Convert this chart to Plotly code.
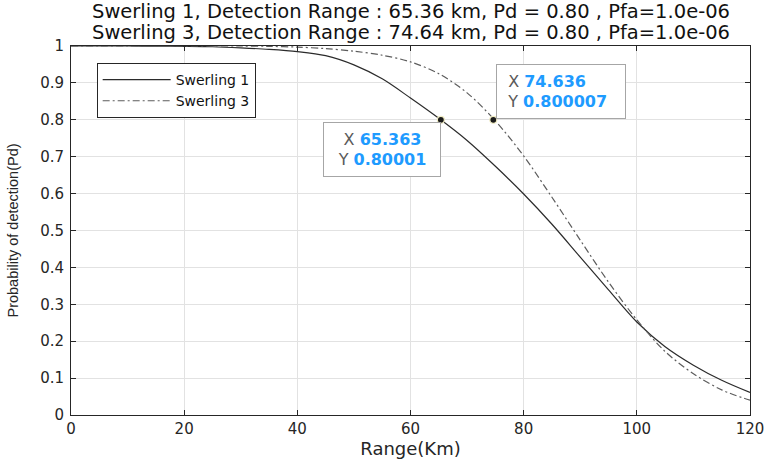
import plotly.graph_objects as go

# ---- data ----
range_km = [0, 5, 10, 15, 20, 25, 30, 35, 40, 45, 50, 55, 60, 65, 70, 75, 80, 85, 90, 95, 100, 105, 110, 115, 120]
pd_swerling1 = [1.0, 1.0, 1.0, 0.9995, 0.999, 0.998, 0.995, 0.991, 0.985, 0.974, 0.949, 0.911, 0.859, 0.804, 0.744,
                0.674, 0.599, 0.517, 0.428, 0.339, 0.252, 0.185, 0.135, 0.094, 0.061]
pd_swerling3 = [1.0, 1.0, 1.0, 1.0, 1.0, 1.0, 1.0, 0.999, 0.997, 0.993, 0.986, 0.975, 0.957, 0.925, 0.873,
                0.797, 0.702, 0.59, 0.474, 0.36, 0.258, 0.172, 0.112, 0.068, 0.04]
series_names = ["Swerling 1", "Swerling 3"]
tip_x = [65.363, 74.636]
tip_y = [0.80001, 0.800007]
tip_y_text = ["0.80001", "0.800007"]
pd_target = 0.80
pfa = 1.0e-06
x_ticks = [0, 20, 40, 60, 80, 100, 120]
y_ticks = [0, 0.1, 0.2, 0.3, 0.4, 0.5, 0.6, 0.7, 0.8, 0.9, 1.0]
y_tick_labels = ["0", "0.1", "0.2", "0.3", "0.4", "0.5", "0.6", "0.7", "0.8", "0.9", "1"]

FONT = "DejaVu Sans"
AXC = "#262626"

fig = go.Figure()
fig.add_trace(go.Scatter(
    x=range_km, y=pd_swerling1, mode="lines", name=series_names[0],
    line=dict(color="#2b2b2b", width=1.2, shape="spline", smoothing=0.9)))
fig.add_trace(go.Scatter(
    x=range_km, y=pd_swerling3, mode="lines", name=series_names[1],
    line=dict(color="#5c5c5c", width=1.2, dash="7px,3px,2px,3px", shape="spline", smoothing=0.9)))
fig.add_trace(go.Scatter(
    x=tip_x, y=tip_y, mode="markers", showlegend=False, hoverinfo="skip",
    marker=dict(color="#1a1a1a", size=7, line=dict(color="#f0ecc4", width=1.2))))

annotations = []
# two-line title
title_y = [1.0925, 1.036]
for name, xr, ty in zip(series_names, tip_x, title_y):
    annotations.append(dict(
        text=f"{name}, Detection Range : {xr:.2f} km, Pd = {pd_target:.2f} , Pfa={pfa:.1e}",
        xref="paper", yref="paper", x=0.5, y=ty, xanchor="center", yanchor="middle",
        showarrow=False, font=dict(family=FONT, size=19.5, color="#111111")))

# data tips
def tip_text(xv, yv, lead=""):
    return (f"{lead}<span style='color:#5a5a5a'>X</span> <b>{xv}</b><br>"
            f"{lead}<span style='color:#5a5a5a'>Y</span> <b>{yv}</b>")

annotations.append(dict(
    text=tip_text(f"{tip_x[0]:.3f}", tip_y_text[0]),
    xref="x", yref="y", x=tip_x[0], y=tip_y[0], xanchor="right", yanchor="top",
    xshift=0, yshift=-2, showarrow=False, width=114, height=51, align="center", valign="middle",
    bgcolor="white", bordercolor="#a6a6a6", borderwidth=1, borderpad=1,
    font=dict(family=FONT, size=16, color="#1e9bff")))
annotations.append(dict(
    text=tip_text(f"{tip_x[1]:.3f}", tip_y_text[1], lead="&nbsp;&nbsp;"),
    xref="x", yref="y", x=tip_x[1], y=tip_y[1], xanchor="left", yanchor="bottom",
    xshift=3, yshift=1, showarrow=False, width=126, height=51, align="left", valign="middle",
    bgcolor="white", bordercolor="#a6a6a6", borderwidth=1, borderpad=1,
    font=dict(family=FONT, size=16, color="#1e9bff")))

fig.update_layout(
    width=776, height=467, autosize=False,
    margin=dict(l=71, r=18, t=46, b=49),
    paper_bgcolor="white", plot_bgcolor="white",
    annotations=annotations,
    legend=dict(x=0.0378, y=0.954, xanchor="left", yanchor="top",
                bordercolor=AXC, borderwidth=1, bgcolor="white",
                font=dict(family=FONT, size=14, color="#111111"),
                itemwidth=68, tracegroupgap=0),
    xaxis=dict(range=[0, 120], tickvals=x_ticks, ticks="inside", ticklen=5, tickcolor=AXC,
               mirror="ticks", showline=True, linecolor=AXC, linewidth=1,
               showgrid=True, gridcolor="#e2e2e2", gridwidth=1, zeroline=False,
               tickfont=dict(family=FONT, size=15, color=AXC),
               title=dict(text="Range(Km)", font=dict(family=FONT, size=18, color=AXC), standoff=4)),
    yaxis=dict(range=[0, 1], tickvals=y_ticks, ticktext=y_tick_labels, ticks="inside", ticklen=5,
               tickcolor=AXC, mirror="ticks", showline=True, linecolor=AXC, linewidth=1,
               showgrid=True, gridcolor="#e2e2e2", gridwidth=1, zeroline=False,
               ticklabelstandoff=3,
               tickfont=dict(family=FONT, size=15, color=AXC),
               title=dict(text="Probability of detection(Pd)",
                          font=dict(family="Liberation Sans", size=14.5, color=AXC), standoff=18)),
)

fig.write_html("out.html")
